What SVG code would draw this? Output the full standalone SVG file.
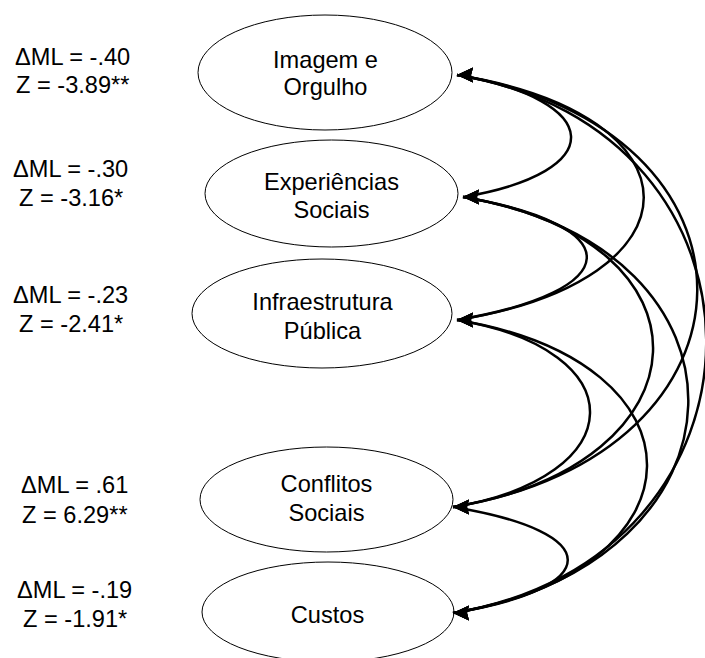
<svg xmlns="http://www.w3.org/2000/svg" width="705" height="658" viewBox="0 0 705 658">
<style>
.node ellipse{fill:#fff;stroke:#000;stroke-width:1}
text{font-family:"Liberation Sans",Arial,sans-serif;font-size:23.6px;fill:#000}
.c text{text-anchor:middle}
.conn path{fill:none;stroke:#000;stroke-width:2.5;marker-start:url(#ah);marker-end:url(#ah)}
</style>
<defs>
<marker id="ah" markerUnits="userSpaceOnUse" markerWidth="20" markerHeight="18" refX="17" refY="8" orient="180" viewBox="0 0 20 16">
<path d="M17,8 L1,0.5 L3,8 L1,15.5 z" fill="#000"/>
</marker>
</defs>
<g id="labels">
<text x="15" y="65">ΔML = -.40</text><text x="16" y="93">Z = -3.89**</text>
<text x="13" y="177">ΔML = -.30</text><text x="19" y="206">Z = -3.16*</text>
<text x="13" y="303">ΔML = -.23</text><text x="19" y="332">Z = -2.41*</text>
<text x="21" y="493">ΔML = .61</text><text x="22" y="523">Z = 6.29**</text>
<text x="17" y="598">ΔML = -.19</text><text x="23" y="627">Z = -1.91*</text>
</g>
<g id="n1" class="node c"><ellipse cx="325" cy="72.5" rx="127" ry="57.5"/><text x="325.5" y="68">Imagem e</text><text x="325.5" y="95">Orgulho</text></g>
<g id="n2" class="node c"><ellipse cx="331.5" cy="193.5" rx="126.5" ry="53.5"/><text x="331.5" y="190">Experiências</text><text x="331.5" y="218">Sociais</text></g>
<g id="n3" class="node c"><ellipse cx="322" cy="313.5" rx="130" ry="54.5"/><text x="322.5" y="310">Infraestrutura</text><text x="322.5" y="339">Pública</text></g>
<g id="n4" class="node c"><ellipse cx="326.5" cy="499.5" rx="126.5" ry="52.5"/><text x="326.5" y="492">Conflitos</text><text x="326.5" y="521">Sociais</text></g>
<g id="n5" class="node c"><ellipse cx="328" cy="612" rx="126" ry="50"/><text x="327.5" y="623">Custos</text></g>
<g id="connectors" class="conn">
<path d="M457,75 C605,100 611,172 463,197"/>
<path d="M463,197 C632,226 626,291 457,320"/>
<path d="M457,320 C637,350 633,477 453,507"/>
<path d="M453,507 C606,532 606,588 453,613"/>
<path d="M457,75 C706,115 706,280 457,320"/>
<path d="M463,197 C723,240 713,464 453,507"/>
<path d="M457,320 C713,362 709,571 453,613"/>
<path d="M457,75 C780,128 776,454 453,507"/>
<path d="M463,197 C770,248 760,562 453,613"/>
<path d="M457,75 C792,130 788,558 453,613"/>
</g>
</svg>
